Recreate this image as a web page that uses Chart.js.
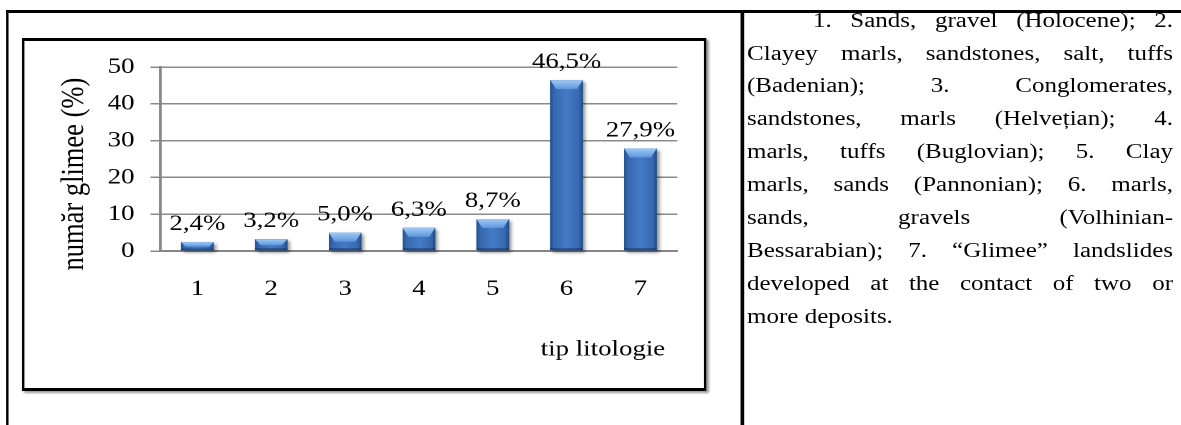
<!DOCTYPE html>
<html>
<head>
<meta charset="utf-8">
<script src="https://cdn.jsdelivr.net/npm/chart.js@4.4.1/dist/chart.umd.min.js"></script>
<style>
  html, body { margin: 0; padding: 0; background: #fff; overflow: hidden; }
  body { width: 1181px; height: 425px; position: relative; }
  /* the whole sheet is laid out narrow and widened horizontally */
  #sheet {
    position: absolute; left: 0; top: 0; width: 968px; height: 425px;
    transform: scaleX(1.22); transform-origin: 0 0;
    font-family: 'Liberation Serif', 'Times New Roman', serif; color: #000;
  }
  .rule { position: absolute; background: #000; }
  #frame {
    position: absolute; left: 18px; top: 38px; width: 557px; height: 347px;
    border-style: solid; border-color: #000; border-width: 3px 2.5px;
    box-shadow: 2px 2px 2px rgba(0,0,0,0.4); background: #fff;
  }
  #plot { display: block; }
  #notes {
    position: absolute; left: 612.3px; top: 3.6px; width: 349.2px;
    font-size: 20.5px; line-height: 32.9px;
  }
  #notes div { text-align: justify; text-align-last: justify; white-space: nowrap; }
  #notes div.first { padding-left: 54px; }
  #notes div.end { text-align-last: left; }
</style>
</head>
<body>
<div id="sheet">
  <div class="rule" style="left:4.9px; top:10px; width:963.1px; height:2.5px;"></div>
  <div class="rule" style="left:4.9px; top:10px; width:2.2px; height:415px;"></div>
  <div class="rule" style="left:607.4px; top:10px; width:2.4px; height:415px;"></div>

  <div id="frame"><canvas id="plot" width="557" height="347"></canvas></div>

  <div id="notes">
    <div class="first">1. Sands, gravel (Holocene); 2.</div>
    <div>Clayey marls, sandstones, salt, tuffs</div>
    <div>(Badenian); 3. Conglomerates,</div>
    <div>sandstones, marls (Helvețian); 4.</div>
    <div>marls, tuffs (Buglovian); 5. Clay</div>
    <div>marls, sands (Pannonian); 6. marls,</div>
    <div>sands, gravels (Volhinian-</div>
    <div>Bessarabian); 7. “Glimee” landslides</div>
    <div>developed at the contact of two or</div>
    <div class="end">more deposits.</div>
  </div>
</div>

<script>
// lithology types and share of "glimee" landslides per type (%)
const lithologyTypes = ['1', '2', '3', '4', '5', '6', '7'];
const glimeeShare = [2.4, 3.2, 5.0, 6.3, 8.7, 46.5, 27.9];
const yTickValues = [0, 10, 20, 30, 40, 50];
const yCaption = 'număr glimee (%)';
const xCaption = 'tip litologie';

const serif = "'Liberation Serif', 'Times New Roman', serif";

function percentLabel(v) {
  return v.toFixed(1).replace('.', ',') + '%';
}

// bevelled bar faces, drop shadow and value labels
const bevelBars = {
  id: 'bevelBars',
  beforeDatasetsDraw(chart) {
    const ctx = chart.ctx;
    chart.getDatasetMeta(0).data.forEach(bar => {
      const p = bar.getProps(['x', 'y', 'base', 'width'], true);
      ctx.save();
      ctx.shadowColor = 'rgba(0,0,0,0.45)';
      ctx.shadowBlur = 6;
      ctx.shadowOffsetX = 4;
      ctx.shadowOffsetY = 4;
      ctx.fillStyle = '#2f5e9f';
      ctx.fillRect(p.x - p.width / 2, p.y, p.width, p.base - p.y);
      ctx.restore();
    });
  },
  afterDatasetsDraw(chart) {
    const ctx = chart.ctx;
    const values = chart.data.datasets[0].data;
    chart.getDatasetMeta(0).data.forEach((bar, i) => {
      const p = bar.getProps(['x', 'y', 'base', 'width'], true);
      const l = p.x - p.width / 2, r = p.x + p.width / 2, h = p.base - p.y;
      ctx.save();
      const body = ctx.createLinearGradient(l, 0, r, 0);
      body.addColorStop(0, '#26518f');
      body.addColorStop(0.12, '#3768b0');
      body.addColorStop(0.5, '#457bc6');
      body.addColorStop(0.88, '#3768b0');
      body.addColorStop(1, '#214a86');
      ctx.fillStyle = body;
      ctx.fillRect(l, p.y, p.width, h);

      const capH = Math.min(9, h * 0.55);
      const inset = Math.min(p.width * 0.18, capH * 0.8);
      const cap = ctx.createLinearGradient(0, p.y, 0, p.y + capH);
      cap.addColorStop(0, '#a0caf6');
      cap.addColorStop(1, '#5e96dc');
      ctx.fillStyle = cap;
      ctx.beginPath();
      ctx.moveTo(l, p.y);
      ctx.lineTo(r, p.y);
      ctx.lineTo(r - inset, p.y + capH);
      ctx.lineTo(l + inset, p.y + capH);
      ctx.closePath();
      ctx.fill();

      const rim = Math.min(2, h * 0.2);
      ctx.fillStyle = 'rgba(18,45,90,0.55)';
      ctx.fillRect(l, p.base - rim, p.width, rim);
      ctx.restore();

      ctx.save();
      ctx.font = '22px ' + serif;
      ctx.fillStyle = '#000';
      ctx.textAlign = 'center';
      ctx.textBaseline = 'alphabetic';
      ctx.fillText(percentLabel(values[i]), p.x, p.y - 12);
      ctx.restore();
    });
  }
};

// axis captions: vertical one beside the value axis, horizontal one under the categories
const axisCaptions = {
  id: 'axisCaptions',
  afterDraw(chart) {
    const { ctx, chartArea, scales } = chart;
    ctx.save();
    ctx.fillStyle = '#000';
    ctx.font = '26.5px ' + serif;
    ctx.textAlign = 'center';
    ctx.textBaseline = 'middle';
    ctx.translate(scales.y.left + 41, (chartArea.top + chartArea.bottom) / 2 + 15);
    ctx.rotate(-Math.PI / 2);
    ctx.fillText(yCaption, 0, 0);
    ctx.restore();

    ctx.save();
    ctx.fillStyle = '#000';
    ctx.font = '22px ' + serif;
    ctx.textAlign = 'right';
    ctx.textBaseline = 'middle';
    ctx.fillText(xCaption, chartArea.right - 10, scales.x.bottom - 38.2);
    ctx.restore();
  }
};

new Chart(document.getElementById('plot'), {
  type: 'bar',
  data: {
    labels: lithologyTypes,
    datasets: [{
      data: glimeeShare,
      backgroundColor: '#3c6db4',
      borderWidth: 0,
      barPercentage: 0.44,
      categoryPercentage: 1
    }]
  },
  options: {
    responsive: false,
    devicePixelRatio: 2,
    animation: false,
    layout: { padding: { left: 0, right: 21.8, top: 25, bottom: 0 } },
    plugins: { legend: { display: false }, tooltip: { enabled: false } },
    scales: {
      x: {
        grid: { display: false, drawTicks: false },
        border: { display: true, color: '#858585', width: 2 },
        ticks: { color: '#000', font: { family: serif, size: 22 }, padding: 25 },
        title: { display: false, text: xCaption },
        afterFit(scale) { scale.height = 137; }
      },
      y: {
        min: 0, max: 50,
        afterBuildTicks(scale) { scale.ticks = yTickValues.map(v => ({ value: v })); },
        grid: { color: '#8a8a8a', lineWidth: 1.5, tickLength: 8.2, drawTicks: true },
        border: { display: true, color: '#858585', width: 2 },
        ticks: { color: '#000', font: { family: serif, size: 22 }, padding: 13 },
        title: { display: false, text: yCaption },
        afterFit(scale) { scale.width = 111.5; }
      }
    }
  },
  plugins: [bevelBars, axisCaptions]
});
</script>
</body>
</html>
